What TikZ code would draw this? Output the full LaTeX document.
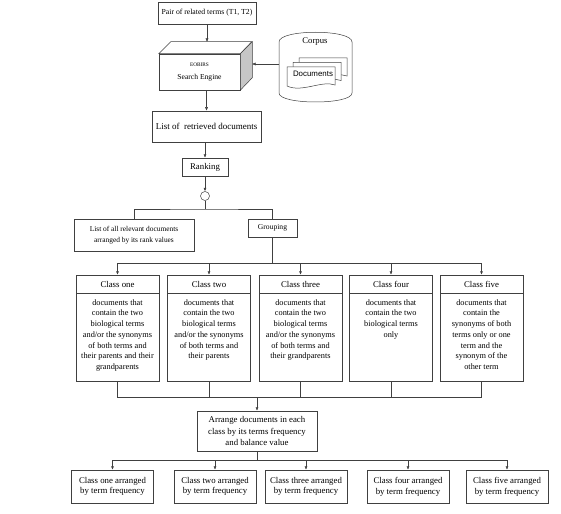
\documentclass[tikz,border=0pt]{standalone}
\usepackage{fontspec}
\setmainfont{Liberation Serif}
\newfontfamily\docsfont{Liberation Sans}
\usetikzlibrary{arrows.meta}

\tikzset{
	line/.style={draw=black!75, line width=0.5pt},
	arrow/.style={line, -{Latex[length=3.5pt,width=3pt]}},
	box/.style={draw=black!75, line width=0.5pt, fill=white, align=center, inner sep=1pt},
	classhead/.style={box, minimum width=83, minimum height=18, font=\fontsize{8.8}{10}\selectfont},
	classbody/.style={box, minimum width=83, minimum height=88},
	classtext/.style={align=center, inner sep=0pt, font=\fontsize{8.3}{10.7}\selectfont},
	result/.style={box, minimum width=82, minimum height=33, font=\fontsize{8.8}{10.7}\selectfont}
}

\begin{document}
\begin{tikzpicture}[x=1pt, y=-1pt]
	\useasboundingbox (0,0) rectangle (561,513);
	
	% rows
	\def\busone{263}
	\def\bustwo{397}
	\def\busthree{460}
	
	% input and search engine
	\node[box, minimum width=98, minimum height=22, font=\fontsize{7.7}{9}\selectfont] (pair) at (207,13) {Pair of related terms (T1, T2)};
	\node[box, minimum width=81, minimum height=36, font=\fontsize{7.6}{9}\selectfont] (engine) at (199.5,72) {{\fontsize{5.3}{6}\selectfont EOBIRS}\\[4pt]Search Engine};
	\filldraw[line, fill=white] (engine.north west) -- ++(12,-12) -- ++(81,0) -- (engine.north east) -- cycle;
	\filldraw[line, fill=gray!45] (engine.north east) -- ++(12,-12) -- ++(0,36) -- (engine.south east) -- cycle;
	\coordinate (enginetop) at (207,42);
	\coordinate (engineside) at (252,64);
	\draw[arrow] (pair.south) -- (enginetop);
	
	% corpus
	\draw[line, fill=white] (279,42) .. controls (279,29) and (352,29) .. (352,42) -- (352,93) .. controls (352,105) and (279,105) .. (279,93) -- cycle;
	\node[font=\fontsize{8.7}{10}\selectfont] (corpus) at (315,42) {Corpus};
	\foreach \d in {12,6,0}
		\draw[line, fill=white, shift={(\d,-0.75*\d)}] (287,67) -- (335,67) -- (335,85) .. controls (322,80) and (302,93) .. (287,86) -- cycle;
	\node[font=\docsfont\fontsize{7.9}{9}\selectfont] (docs) at (313,74) {Documents};
	\coordinate (corpusleft) at (279,64);
	\draw[arrow] (corpusleft) -- (engineside);
	
	% retrieval and ranking
	\node[box, minimum width=109, minimum height=31, font=\fontsize{9}{11}\selectfont] (list) at (206.5,126.5) {List of~ retrieved documents};
	\draw[arrow] (list.north |- engine.south) -- (list.north);
	\node[box, minimum width=46, minimum height=18, font=\fontsize{8.8}{10}\selectfont] (rank) at (205,167) {Ranking};
	\draw[arrow] (list.south -| rank.north) -- (rank.north);
	\node[circle, line, minimum size=9, inner sep=0pt] (split) at (205,196) {};
	\draw[arrow] (rank.south) -- (split.north);
	
	% two outputs
	\node[box, minimum width=120, minimum height=32, font=\fontsize{7.4}{11.5}\selectfont] (allrel) at (134,235) {List of all relevant documents\\arranged by its rank values};
	\node[box, minimum width=49, minimum height=18, font=\fontsize{7.6}{9}\selectfont] (group) at (272.5,228) {Grouping};
	\coordinate (fork) at (205,209);
	\draw[line] (split.south) -- (fork);
	\draw[line] (allrel.north) |- (fork) -| (group.north);
	
	% classes
	\coordinate (bus1) at (272.5,\busone);
	\coordinate (bus2) at (257,\bustwo);
	\draw[line] (group.south) -- (bus1);
	\foreach \x/\name/\txt [count=\i] in {
		117.5/one/{documents that\\contain the two\\biological terms\\and/or the synonyms\\of both terms and\\their parents and their\\grandparents},
		209/two/{documents that\\contain the two\\biological terms\\and/or the synonyms\\of both terms and\\their parents},
		300.5/three/{documents that\\contain the two\\biological terms\\and/or the synonyms\\of both terms and\\their grandparents},
		391/four/{documents that\\contain the two\\biological terms\\only},
		481.5/five/{documents that\\contain the\\synonyms of both\\terms only or one\\term and the\\synonym of the\\other term}} {
		\node[classhead] (h\i) at (\x,284) {Class \name};
		\node[classbody, anchor=north] (b\i) at (h\i.south) {};
		\node[classtext, anchor=north] (t\i) at ([yshift=-6pt]b\i.north) {\txt};
		\draw[arrow] (bus1) -| (h\i.north);
		\draw[line] (b\i.south) |- (bus2);
	}
	
	% arranging
	\node[box, minimum width=120, minimum height=40, font=\fontsize{8.8}{11.5}\selectfont] (arrange) at (257,431) {Arrange documents in each\\class by its terms frequency\\and balance value};
	\draw[arrow] (bus2) -- (arrange.north);
	\coordinate (bus3) at (257,\busthree);
	\draw[line] (arrange.south) -- (bus3);
	\foreach \x/\name [count=\i] in {112.5/one, 215/two, 306/three, 408/four, 507/five} {
		\node[result] (r\i) at (\x,486.5) {Class \name\ arranged\\by term frequency};
		\draw[arrow] (bus3) -| (r\i.north);
	}
\end{tikzpicture}
\end{document}
